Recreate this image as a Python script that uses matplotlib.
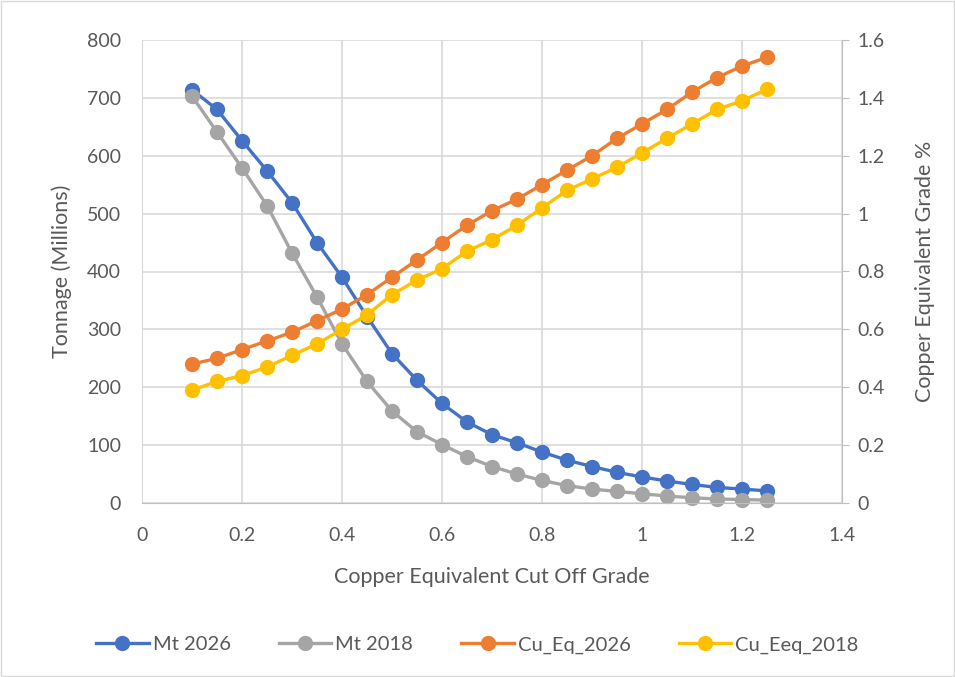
import matplotlib.pyplot as plt
from matplotlib.patches import Rectangle

plt.rcParams['font.family'] = ['Lato', 'DejaVu Sans']

cutoff = [0.1, 0.15, 0.2, 0.25, 0.3, 0.35, 0.4, 0.45, 0.5, 0.55, 0.6, 0.65,
          0.7, 0.75, 0.8, 0.85, 0.9, 0.95, 1.0, 1.05, 1.1, 1.15, 1.2, 1.25]

mt_2026 = [714, 680, 626, 574, 519, 450, 390, 322, 258, 212, 172, 140,
           118, 104, 88, 74, 63, 53, 45, 38, 32, 27, 24, 21]
mt_2018 = [703, 641, 579, 514, 432, 356, 275, 210, 159, 123, 101, 80,
           63, 50, 39, 30, 24, 20, 16, 12, 9, 7, 6, 5]
cu_eq_2026 = [0.48, 0.50, 0.53, 0.56, 0.59, 0.63, 0.67, 0.72, 0.78, 0.84, 0.90, 0.96,
              1.01, 1.05, 1.10, 1.15, 1.20, 1.26, 1.31, 1.36, 1.42, 1.47, 1.51, 1.54]
cu_eq_2018 = [0.39, 0.42, 0.44, 0.47, 0.51, 0.55, 0.60, 0.65, 0.72, 0.77, 0.81, 0.87,
              0.91, 0.96, 1.02, 1.08, 1.12, 1.16, 1.21, 1.26, 1.31, 1.36, 1.39, 1.43]

txt = '#595959'
grid = '#d9d9d9'

fig = plt.figure(figsize=(9.55, 6.77), dpi=100)
ax = fig.add_axes([142/955, 1 - 503/677, 700/955, 463/677])
ax2 = ax.twinx()

# chart border
fig.patches.append(Rectangle((0.001, 0.001), 0.998, 0.998, transform=fig.transFigure,
                             fill=False, edgecolor='#d9d9d9', lw=1))

style = dict(marker='o', markersize=10, lw=2.4, clip_on=False)
l1, = ax.plot(cutoff, mt_2026, color='#4472C4', label='Mt 2026', **style)
l2, = ax.plot(cutoff, mt_2018, color='#A5A5A5', label='Mt 2018', **style)
l3, = ax2.plot(cutoff, cu_eq_2026, color='#ED7D31', label='Cu_Eq_2026', **style)
l4, = ax2.plot(cutoff, cu_eq_2018, color='#FFC000', label='Cu_Eeq_2018', **style)

ax.set_xlim(0, 1.4)
ax.set_ylim(0, 800)
ax2.set_ylim(0, 1.6)
ax.set_xticks([0, 0.2, 0.4, 0.6, 0.8, 1.0, 1.2, 1.4])
ax.set_xticklabels(['0', '0.2', '0.4', '0.6', '0.8', '1', '1.2', '1.4'])
ax.set_yticks(range(0, 801, 100))
ax2.set_yticks([0, 0.2, 0.4, 0.6, 0.8, 1.0, 1.2, 1.4, 1.6])
ax2.set_yticklabels(['0', '0.2', '0.4', '0.6', '0.8', '1', '1.2', '1.4', '1.6'])

ax.grid(True, color=grid, lw=1.2)
ax.set_axisbelow(True)
for a in (ax, ax2):
    for s in a.spines.values():
        s.set_visible(False)
ax.spines['bottom'].set_visible(True)
ax.spines['bottom'].set_color('#bfbfbf')
ax.spines['left'].set_visible(True)
ax.spines['left'].set_color(grid)
ax2.spines['right'].set_visible(True)
ax2.spines['right'].set_color('#bfbfbf')

ax.tick_params(axis='x', length=0, labelsize=14, labelcolor=txt, pad=17)
ax.tick_params(axis='y', length=0, labelsize=14, labelcolor=txt, pad=15)
ax2.tick_params(axis='y', length=5, color='#bfbfbf', labelsize=14, labelcolor=txt, pad=6)

ax.set_xlabel('Copper Equivalent Cut Off Grade', fontsize=15.5, color=txt, labelpad=17)
ax.set_ylabel('Tonnage (Millions)', fontsize=15.5, color=txt, labelpad=11)
ax2.set_ylabel('Copper Equivalent Grade %', fontsize=15.5, color=txt, labelpad=22)

fig.legend(handles=[l1, l2, l3, l4], loc='center', bbox_to_anchor=(0.5, 1 - 645/677),
           ncol=4, frameon=False, fontsize=14.5, labelcolor=txt, handlelength=2.6,
           columnspacing=2.4, handletextpad=0.2)

fig.savefig('out.png', dpi=100)
